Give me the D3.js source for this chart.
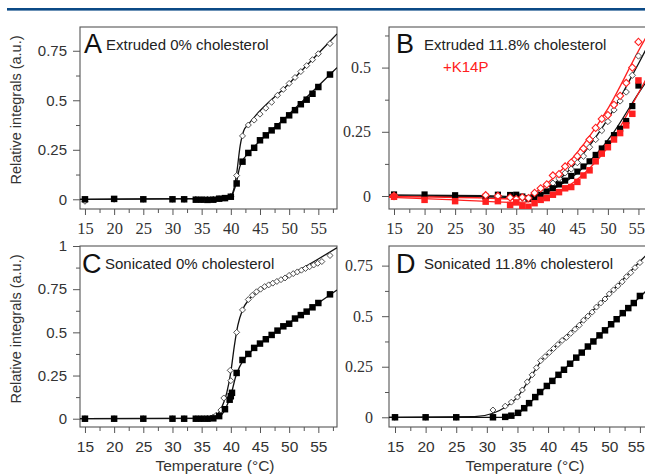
<!DOCTYPE html>
<html><head><meta charset="utf-8">
<script src="https://cdn.jsdelivr.net/npm/d3@7/dist/d3.min.js"></script>
<style>body{margin:0;background:#fff;}svg{display:block;}</style>
</head><body>
<svg id="chart" width="645" height="475"></svg>
<script>
// ---------- tick values / labels ----------
const xTicks = [15,20,25,30,35,40,45,50,55];
const xMinorTicks = [17.5,22.5,27.5,32.5,37.5,42.5,47.5,52.5,57.5];
const yTicksABD = [0,0.25,0.5,0.75];
const yTicksC = [0,0.25,0.5,0.75,1];
const yMinorTicks = [0.125,0.375,0.625,0.875];

// ---------- Panel A : Extruded 0% cholesterol ----------
const tempA = [15,20,25,30,32,34,35,36,37,38,39,40,41,42,43,44,45,46,47,48,49,50,51,52,53,54,55,57];
const filledA = [0,0.002,0,0,0,-0.002,-0.002,-0.003,-0.002,0.003,0.006,0.013,0.08,0.19,0.234,0.26,0.298,0.323,0.348,0.369,0.4,0.424,0.45,0.48,0.503,0.533,0.567,0.63];
const openA = [-0.01,0,0,0,0,0,-0.003,0,0,0.003,0.006,0.015,0.12,0.32,0.375,0.4,0.43,0.46,0.49,0.525,0.555,0.585,0.615,0.645,0.675,0.705,0.735,0.786];
const fitOpenA_T = [14.15,39,40,40.5,41,41.6,42.2,43,50,57,58.2];
const fitOpenA_V = [0,0.004,0.015,0.05,0.13,0.27,0.345,0.378,0.585,0.798,0.835];
const fitFilledA_T = [14.15,39,40,40.5,41,41.5,42,43,50,57,58.2];
const fitFilledA_V = [0,0.005,0.012,0.04,0.09,0.16,0.195,0.232,0.43,0.63,0.665];

// ---------- Panel B : Extruded 11.8% cholesterol (+K14P red) ----------
const tempB = [15,20,25,30,32,34,35,36,37,38,39,40,41,42,43,44,45,46,47,48,49,50,51,52,53,54,55];
const filledB = [0.006,0.006,0.003,-0.003,0.005,0.004,0.005,-0.002,-0.01,-0.004,0.004,0.018,0.03,0.045,0.06,0.078,0.095,0.115,0.135,0.16,0.185,0.205,0.237,0.262,0.292,0.35,0.43];
const openB = [0,-0.002,-0.003,-0.01,0.002,-0.003,0,-0.008,-0.01,0,0.015,0.032,0.05,0.068,0.09,0.105,0.13,0.155,0.19,0.22,0.255,0.29,0.335,0.37,0.405,0.47,0.545];
const filledBred = [-0.003,-0.015,-0.02,-0.022,-0.02,-0.035,-0.025,-0.038,-0.042,-0.028,-0.015,-0.008,0.005,0.015,0.03,0.035,0.055,0.08,0.1,0.135,0.165,0.19,0.22,0.245,0.275,0.32,0.45];
const tempBredOpen = [15,30,32,34,35,36,37,38,39,40,41,42,43,44,45,46,47,48,49,50,51,52,53,54,55];
const openBred = [0,0.003,0,-0.006,-0.012,-0.005,-0.008,0.012,0.03,0.045,0.08,0.085,0.115,0.13,0.155,0.185,0.22,0.265,0.3,0.315,0.355,0.39,0.44,0.5,0.6];
const fitFilledB_T = [14.18,30,36,38,40,42,45,48,51,55,58.2];
const fitFilledB_V = [0.004,0.001,-0.002,0.002,0.015,0.04,0.09,0.16,0.25,0.4,0.51];
const fitOpenB_T = [14.18,30,35,37,40,43,46,50,55,58.2];
const fitOpenB_V = [0,-0.003,-0.006,0,0.03,0.085,0.165,0.3,0.515,0.66];
const fitOpenBred_T = [14.18,30,35,37,40,43,46,50,55,58.2];
const fitOpenBred_V = [-0.002,-0.008,-0.012,0,0.048,0.115,0.2,0.34,0.565,0.7];
const fitFilledBred_T = [14.18,25,35,38,40,43,46,50,55,58.2];
const fitFilledBred_V = [-0.005,-0.015,-0.025,-0.02,-0.005,0.03,0.085,0.19,0.4,0.54];

// ---------- Panel C : Sonicated 0% cholesterol ----------
const tempC = [15,20,25,30,32,34,35,36,37,38,39,39.8,40,40.2,41,42,43,44,45,46,47,48,49,50,51,52,53,54,55,57];
const filledC = [0,0,0,0,0,0,0,0,0.002,0.015,0.055,0.11,0.13,0.15,0.265,0.34,0.375,0.41,0.435,0.46,0.485,0.51,0.535,0.55,0.58,0.6,0.62,0.645,0.67,0.72];
const tempCopen = [15,20,25,30,32,34,35,36,37,37.5,38.3,38.8,39.9,40,41,42,43,43.7,44.4,45.1,45.8,46.5,47.2,47.9,48.6,49.3,50,50.7,51.4,52.1,52.8,53.5,54.2,54.9,55.6,57];
const openC = [0,0,0,0,0,0,0,0.002,0.01,0.02,0.05,0.12,0.28,0.22,0.5,0.63,0.69,0.715,0.735,0.75,0.765,0.775,0.785,0.795,0.805,0.815,0.83,0.84,0.85,0.86,0.87,0.88,0.89,0.9,0.91,0.945];
const fitOpenC_T = [14.15,36,37.5,38.5,39.3,40,40.6,41.2,42,43,44.5,47,50,55,58.2];
const fitOpenC_V = [0,0.002,0.02,0.07,0.15,0.27,0.42,0.54,0.63,0.685,0.73,0.78,0.83,0.925,0.99];
const fitFilledC_T = [14.15,37,38,38.8,39.5,40.2,40.8,41.5,42.3,43.5,46,50,55,58.2];
const fitFilledC_V = [0,0.002,0.012,0.04,0.09,0.16,0.24,0.3,0.345,0.39,0.46,0.555,0.67,0.745];

// ---------- Panel D : Sonicated 11.8% cholesterol ----------
const tempD = [15,20,25,31,33,34,35.1,36.1,36.9,37.9,38.7,39.8,40.7,41.7,42.6,43.6,44.6,45.5,46.5,47.4,48.4,49.3,50.3,51.2,52.2,53.1,54,55];
const filledD = [0,0,0,0,0.002,0.008,0.022,0.045,0.07,0.1,0.125,0.155,0.18,0.21,0.235,0.265,0.295,0.32,0.35,0.375,0.405,0.43,0.46,0.485,0.515,0.54,0.565,0.6];
const tempDopen = [15,20,25,31,33,34,35,35.8,36.6,37.4,38.1,38.8,39.5,40.2,40.9,41.6,42.3,43,43.7,44.4,45.1,45.8,46.5,47.2,47.9,48.6,49.3,50,50.7,51.4,52.1,52.8,53.5,54.2,55];
const openD = [0,0,0,0.036,0.055,0.075,0.1,0.135,0.175,0.21,0.245,0.28,0.3,0.32,0.34,0.36,0.38,0.395,0.415,0.435,0.455,0.48,0.5,0.52,0.545,0.565,0.585,0.61,0.63,0.65,0.67,0.695,0.715,0.74,0.765];
const fitOpenD_T = [14.02,28,31,33,35,37,38.8,41,44,50,55,58.2];
const fitOpenD_V = [0,0.003,0.02,0.05,0.1,0.19,0.275,0.345,0.43,0.61,0.77,0.87];
const fitFilledD_T = [14.02,33,34.5,36,37.5,40,45,50,55,58.2];
const fitFilledD_V = [0,0,0.008,0.04,0.085,0.16,0.305,0.45,0.595,0.69];

// ---------- drawing ----------
const W = 645;
const svg = d3.select('#chart');
svg.append('rect').attr('x',7).attr('y',8).attr('width',640).attr('height',2.6).attr('fill','#0b4a86');

const SANS = "'Liberation Sans', Arial, sans-serif";
const SERIF = "'Liberation Serif', 'Times New Roman', serif";
const RED = '#ff2020';
const AXC = '#555';

const pairs = (t,v) => t.map((d,i)=>[d,v[i]]);

function drawPanel(p){
  const g = svg.append('g');
  const x = d3.scaleLinear().domain(p.xd).range([p.x0,p.x1]);
  const y = d3.scaleLinear().domain(p.yd).range([p.y1,p.y0]);
  const cid = 'clip'+p.id;
  svg.append('clipPath').attr('id',cid).append('rect')
    .attr('x',p.x0).attr('y',p.y0).attr('width',p.x1-p.x0).attr('height',p.y1-p.y0);

  // x axis
  const xa = g.append('g').attr('transform',`translate(0,${p.y1})`)
    .call(d3.axisBottom(x).tickValues(xTicks).tickSize(6).tickPadding(p.xPad).tickFormat(d3.format('d')));
  xa.select('.domain').remove();
  xa.selectAll('line').attr('stroke',AXC);
  xa.selectAll('text').attr('font-family',p.xFont).attr('font-size',p.xFs).attr('fill','#333');
  // keep labels inside the window
  xa.selectAll('.tick').each(function(){
    const t = d3.select(this).select('text');
    const bb = t.node().getBBox();
    const cx = x(d3.select(this).datum());
    const right = cx + bb.x + bb.width;
    if(right > W - 0.5) t.attr('dx', (W - 0.5 - right));
  });
  const xm = g.append('g').attr('transform',`translate(0,${p.y1})`)
    .call(d3.axisBottom(x).tickValues(xMinorTicks.filter(t=>t<=p.xd[1])).tickSize(4).tickFormat(''));
  xm.select('.domain').remove();
  xm.selectAll('line').attr('stroke',AXC);

  // y axis
  const ya = g.append('g').attr('transform',`translate(${p.x0},0)`)
    .call(d3.axisLeft(y).tickValues(p.yTicks.filter(t=>t<=p.yd[1])).tickSize(7).tickPadding(p.yPad).tickFormat(d3.format('~g')));
  ya.select('.domain').remove();
  ya.selectAll('line').attr('stroke',AXC);
  ya.selectAll('text').attr('font-family',p.yFont).attr('font-size',p.yFs).attr('fill','#333');
  const ym = g.append('g').attr('transform',`translate(${p.x0},0)`)
    .call(d3.axisLeft(y).tickValues(yMinorTicks.filter(t=>t<=p.yd[1])).tickSize(4).tickFormat(''));
  ym.select('.domain').remove();
  ym.selectAll('line').attr('stroke',AXC);

  // frame
  g.append('rect').attr('x',p.x0).attr('y',p.y0).attr('width',p.x1-p.x0).attr('height',p.y1-p.y0)
    .attr('fill','none').attr('stroke',AXC).attr('stroke-width',1.1);

  const plot = g.append('g').attr('clip-path',`url(#${cid})`);
  const line = d3.line().x(d=>x(d[0])).y(d=>y(d[1])).curve(d3.curveMonotoneX);
  p.fits.forEach(f=>{
    plot.append('path').datum(pairs(f.t,f.v)).attr('d',line)
      .attr('fill','none').attr('stroke',f.color).attr('stroke-width',1.3);
  });
  p.series.forEach(s=>{
    const pts = pairs(s.t,s.v);
    if(s.type==='open'){
      const sym = d3.symbol().type(d3.symbolSquare).size(s.size||18);
      plot.selectAll(null).data(pts).enter().append('path')
        .attr('d',sym)
        .attr('transform',d=>`translate(${x(d[0])},${y(d[1])}) rotate(45)`)
        .attr('fill','#fff').attr('stroke',s.color).attr('stroke-width',s.sw||0.8);
    } else {
      const sym = d3.symbol().type(d3.symbolSquare).size(s.size||42);
      plot.selectAll(null).data(pts).enter().append('path')
        .attr('d',sym)
        .attr('transform',d=>`translate(${x(d[0])},${y(d[1])})`)
        .attr('fill',s.color);
    }
  });

  // labels
  g.append('text').attr('x',p.lx).attr('y',p.ly).text(p.letter)
    .attr('font-family',SANS).attr('font-size',27).attr('fill','#111');
  g.append('text').attr('x',p.tx).attr('y',p.ty).text(p.title)
    .attr('font-family',SANS).attr('font-size',15).attr('fill','#222');
  if(p.yTitle){
    g.append('text').attr('transform',`translate(21,${p.yTitleY}) rotate(-90)`)
      .attr('text-anchor','middle').text('Relative integrals (a.u.)')
      .attr('font-family',SANS).attr('font-size',14.5).attr('fill','#333');
  }
  if(p.xTitle){
    g.append('text').attr('x',(p.xTitleX)).attr('y',471).attr('text-anchor','middle')
      .text('Temperature (°C)').attr('font-family',SANS).attr('font-size',15.5).attr('fill','#333');
  }
  return g;
}

drawPanel({id:'A',x0:80,x1:337,y0:27,y1:209,xd:[14.15,58.2],yd:[-0.049,0.87],
  yTicks:yTicksABD,xFont:SERIF,xFs:16.5,xPad:7,yFont:SANS,yFs:15,yPad:6,
  letter:'A',lx:84,ly:53,title:'Extruded 0% cholesterol',tx:106,ty:50,yTitle:true,yTitleY:110,
  fits:[{t:fitOpenA_T,v:fitOpenA_V,color:'#111'},{t:fitFilledA_T,v:fitFilledA_V,color:'#111'}],
  series:[{t:tempA,v:openA,type:'open',color:'#333'},{t:tempA,v:filledA,type:'filled',color:'#000'}]});

const gB = drawPanel({id:'B',x0:389,x1:658,y0:27,y1:209,xd:[14.18,58.2],yd:[-0.0506,0.658],
  yTicks:yTicksABD,xFont:SERIF,xFs:16.5,xPad:7,yFont:SERIF,yFs:16,yPad:11,
  letter:'B',lx:396,ly:53,title:'Extruded 11.8% cholesterol',tx:424,ty:50,
  fits:[{t:fitFilledB_T,v:fitFilledB_V,color:'#111'},{t:fitOpenB_T,v:fitOpenB_V,color:'#111'},
        {t:fitFilledBred_T,v:fitFilledBred_V,color:RED},{t:fitOpenBred_T,v:fitOpenBred_V,color:RED}],
  series:[{t:tempB,v:openB,type:'open',color:'#333',size:20},
          {t:tempB,v:filledB,type:'filled',color:'#000',size:38},
          {t:tempBredOpen,v:openBred,type:'open',color:RED,size:26,sw:1.1},
          {t:tempB,v:filledBred,type:'filled',color:RED,size:42}]});
gB.append('text').attr('x',443).attr('y',72).text('+K14P')
  .attr('font-family',SANS).attr('font-size',15).attr('fill',RED);

drawPanel({id:'C',x0:80,x1:337,y0:246,y1:427,xd:[14.15,58.2],yd:[-0.048,1.0],
  yTicks:yTicksC,xFont:SANS,xFs:15.5,xPad:8,yFont:SANS,yFs:15,yPad:6,
  letter:'C',lx:82,ly:273,title:'Sonicated 0% cholesterol',tx:105,ty:269,yTitle:true,yTitleY:329,
  xTitle:true,xTitleX:215,
  fits:[{t:fitOpenC_T,v:fitOpenC_V,color:'#111'},{t:fitFilledC_T,v:fitFilledC_V,color:'#111'}],
  series:[{t:tempCopen,v:openC,type:'open',color:'#333'},{t:tempC,v:filledC,type:'filled',color:'#000'}]});

drawPanel({id:'D',x0:389,x1:659.5,y0:246,y1:427,xd:[14.02,58.2],yd:[-0.048,0.847],
  yTicks:yTicksABD,xFont:SANS,xFs:15.5,xPad:8,yFont:SERIF,yFs:16,yPad:9,
  letter:'D',lx:396,ly:273,title:'Sonicated 11.8% cholesterol',tx:424,ty:269,
  xTitle:true,xTitleX:525,
  fits:[{t:fitOpenD_T,v:fitOpenD_V,color:'#111'},{t:fitFilledD_T,v:fitFilledD_V,color:'#111'}],
  series:[{t:tempDopen,v:openD,type:'open',color:'#333'},{t:tempD,v:filledD,type:'filled',color:'#000'}]});
</script>
</body></html>
